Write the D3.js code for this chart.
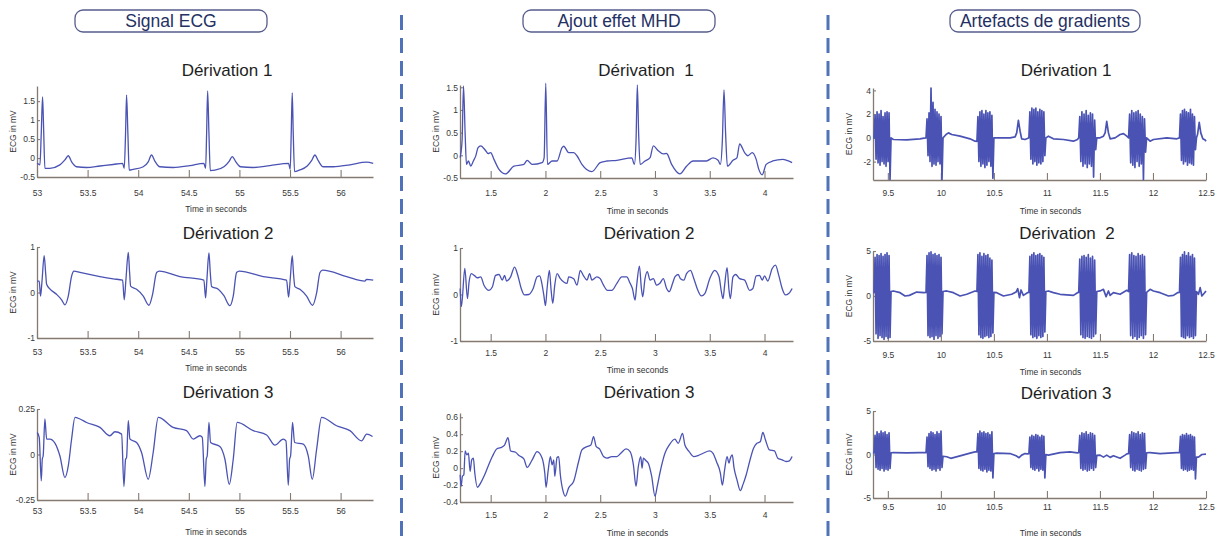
<!DOCTYPE html>
<html><head><meta charset="utf-8">
<script src="https://cdn.jsdelivr.net/npm/d3@7"></script>
<style>
body{margin:0;background:#fff}
svg{display:block}
text{font-family:"Liberation Sans",Arial,Helvetica,sans-serif}
</style>
</head><body>
<svg id="chart" width="1224" height="539"></svg>
<script>
// ---------------- DATA ----------------
const columnTitles = ["Signal ECG", "Ajout effet MHD", "Artefacts de gradients"];
const panelTitles = [
  ["Dérivation 1", "Dérivation 2", "Dérivation 3"],
  ["Dérivation  1", "Dérivation 2", "Dérivation 3"],
  ["Dérivation 1", "Dérivation  2", "Dérivation 3"]
];
const xLabel = "Time in seconds";
const yLabel = "ECG in mV";

const xTicksECG = [53, 53.5, 54, 54.5, 55, 55.5, 56];
const xTicksMHD = [1.5, 2, 2.5, 3, 3.5, 4];
const xTicksGrad = [9.5, 10, 10.5, 11, 11.5, 12, 12.5];
const xDomainECG = [53, 56.32];
const xDomainMHD = [1.22, 4.26];
const xDomainGrad = [9.36, 12.5];

const yTicksECG1 = [-0.5, 0, 0.5, 1, 1.5];
const yTicksECG2 = [-1, 0, 1];
const yTicksECG3 = [-0.25, 0, 0.25];
const yTicksMHD1 = [-0.5, 0, 0.5, 1, 1.5];
const yTicksMHD2 = [-1, 0, 1];
const yTicksMHD3 = [-0.4, -0.2, 0, 0.2, 0.4, 0.6];
const yTicksGrad1 = [-2, 0, 2, 4];
const yTicksGrad2 = [-5, 0, 5];
const yTicksGrad3 = [-5, 0, 5];

const yDomainECG1 = [-0.5, 1.9];
const yDomainECG2 = [-1, 1];
const yDomainECG3 = [-0.25, 0.25];
const yDomainMHD1 = [-0.5, 1.55];
const yDomainMHD2 = [-1, 1];
const yDomainMHD3 = [-0.4, 0.65];
const yDomainGrad1 = [-3.55, 4.2];
const yDomainGrad2 = [-5, 5];
const yDomainGrad3 = [-5, 5];

// Signal ECG — [time s, mV]
const ecgD1 = [[53.002,-0.14],[53.029,-0.18],[53.042,0.65],[53.055,1.61],[53.065,0.82],[53.078,-0.27],[53.127,-0.27],[53.226,-0.18],[53.276,-0.05],[53.309,0.06],[53.342,-0.1],[53.391,-0.23],[53.49,-0.25],[53.622,-0.21],[53.753,-0.17],[53.846,-0.14],[53.862,-0.27],[53.875,0.65],[53.885,1.66],[53.898,0.65],[53.911,-0.32],[53.951,-0.3],[54.05,-0.23],[54.099,-0.1],[54.132,0.08],[54.165,-0.08],[54.214,-0.23],[54.346,-0.25],[54.511,-0.2],[54.649,-0.14],[54.666,-0.27],[54.676,0.65],[54.686,1.77],[54.699,0.65],[54.712,-0.33],[54.758,-0.32],[54.847,-0.23],[54.9,-0.08],[54.929,0.04],[54.965,-0.1],[55.011,-0.23],[55.137,-0.25],[55.301,-0.2],[55.486,-0.14],[55.502,-0.3],[55.512,0.65],[55.522,1.72],[55.532,0.65],[55.545,-0.36],[55.591,-0.32],[55.67,-0.21],[55.713,-0.07],[55.746,0.08],[55.779,-0.07],[55.828,-0.23],[55.927,-0.23],[56.092,-0.18],[56.256,-0.11],[56.322,-0.14]];
const ecgD2 = [[53.002,0.25],[53.022,0.25],[53.035,-0.08],[53.048,0.21],[53.071,0.81],[53.085,0.44],[53.095,0.18],[53.127,0.08],[53.193,-0.04],[53.243,-0.16],[53.276,-0.27],[53.309,-0.08],[53.342,0.36],[53.365,0.47],[53.424,0.44],[53.622,0.35],[53.753,0.3],[53.846,0.27],[53.862,-0.16],[53.879,0.29],[53.902,0.88],[53.915,0.44],[53.925,0.14],[53.984,0.07],[54.05,-0.08],[54.106,-0.28],[54.142,-0.04],[54.182,0.44],[54.208,0.47],[54.412,0.35],[54.649,0.27],[54.666,-0.12],[54.679,0.29],[54.699,0.87],[54.712,0.44],[54.725,0.13],[54.791,0.07],[54.847,-0.07],[54.906,-0.29],[54.939,-0.08],[54.972,0.44],[54.998,0.47],[55.235,0.35],[55.466,0.27],[55.486,-0.1],[55.502,0.29],[55.522,0.81],[55.535,0.4],[55.548,0.13],[55.598,0.07],[55.664,-0.08],[55.723,-0.28],[55.763,-0.01],[55.796,0.44],[55.822,0.49],[56.059,0.35],[56.24,0.25],[56.257,0.29],[56.322,0.27]];
const ecgD3 = [[53.002,0.121],[53.022,0.094],[53.042,-0.145],[53.052,-0.026],[53.061,-0.007],[53.078,0.195],[53.095,0.085],[53.127,0.085],[53.177,0.063],[53.226,-0.007],[53.276,-0.127],[53.309,-0.063],[53.342,0.085],[53.375,0.204],[53.424,0.195],[53.49,0.176],[53.622,0.149],[53.72,0.103],[53.77,0.125],[53.836,0.112],[53.859,-0.176],[53.875,-0.026],[53.885,-0.017],[53.902,0.186],[53.918,0.085],[53.984,0.066],[54.033,0.011],[54.099,-0.136],[54.148,0.011],[54.198,0.204],[54.346,0.149],[54.478,0.131],[54.544,0.085],[54.609,0.103],[54.633,0.094],[54.659,-0.176],[54.672,-0.026],[54.682,-0.007],[54.699,0.176],[54.715,0.066],[54.807,0.044],[54.857,-0.026],[54.9,-0.164],[54.939,-0.026],[54.978,0.176],[55.137,0.131],[55.269,0.107],[55.351,0.051],[55.433,0.085],[55.46,0.075],[55.483,-0.169],[55.496,-0.026],[55.506,-0.007],[55.525,0.176],[55.545,0.066],[55.631,0.057],[55.68,-0.007],[55.72,-0.136],[55.763,0.029],[55.812,0.204],[55.96,0.158],[56.092,0.131],[56.207,0.075],[56.257,0.112],[56.316,0.099]];

// Ajout effet MHD — [time s, mV]
const mhdD1 = [[1.221,-0.05],[1.239,0.32],[1.252,1.53],[1.267,0.47],[1.279,-0.2],[1.297,-0.125],[1.318,-0.237],[1.342,-0.125],[1.364,-0.013],[1.385,0.17],[1.409,0.21],[1.455,0.1],[1.476,0.04],[1.5,0.06],[1.53,-0.09],[1.576,-0.31],[1.636,-0.41],[1.712,-0.24],[1.803,-0.2],[1.833,-0.11],[1.879,-0.2],[1.97,-0.16],[1.988,-0.055],[2.003,1.59],[2.018,-0.2],[2.061,-0.125],[2.106,-0.125],[2.152,0.17],[2.167,0.2],[2.212,0.06],[2.258,0.06],[2.288,-0.01],[2.333,-0.2],[2.424,-0.36],[2.5,-0.16],[2.561,-0.125],[2.652,-0.11],[2.788,-0.055],[2.812,-0.2],[2.827,0.32],[2.839,1.55],[2.851,0.47],[2.864,-0.2],[2.909,-0.125],[2.955,-0.05],[2.985,0.21],[3.03,0.1],[3.076,0.03],[3.106,0.04],[3.152,-0.2],[3.227,-0.41],[3.288,-0.24],[3.348,-0.125],[3.47,-0.125],[3.53,-0.055],[3.576,-0.11],[3.597,-0.2],[3.615,0.32],[3.63,1.44],[3.645,0.47],[3.661,-0.24],[3.712,-0.11],[3.748,-0.055],[3.773,0.25],[3.818,0.06],[3.848,-0.01],[3.888,0.06],[3.924,-0.09],[3.948,-0.31],[3.979,-0.43],[4.015,-0.2],[4.076,-0.125],[4.167,-0.09],[4.203,-0.11],[4.252,-0.16]];
const mhdD2 = [[1.221,0.13],[1.233,-0.26],[1.264,0.56],[1.288,-0.09],[1.303,0.27],[1.324,0.45],[1.355,0.4],[1.379,0.36],[1.409,0.38],[1.439,0.2],[1.485,0.09],[1.515,0.16],[1.545,0.41],[1.576,0.43],[1.606,0.31],[1.627,0.41],[1.645,0.29],[1.682,0.38],[1.718,0.59],[1.748,0.41],[1.779,0.13],[1.809,-0.01],[1.848,0],[1.888,0.13],[1.924,0.38],[1.948,0.4],[1.97,0.2],[1.985,-0.01],[2.0,-0.24],[2.015,0.13],[2.036,0.52],[2.052,0.09],[2.067,-0.19],[2.085,0.2],[2.106,0.45],[2.136,0.34],[2.167,0.27],[2.197,0.24],[2.212,0.38],[2.258,0.34],[2.288,0.2],[2.318,0.52],[2.348,0.4],[2.379,0.31],[2.403,0.45],[2.424,0.31],[2.47,0.38],[2.5,0.34],[2.53,0.2],[2.567,0.09],[2.606,0.09],[2.652,0.24],[2.697,0.38],[2.742,0.38],[2.773,0.24],[2.794,0.13],[2.818,-0.12],[2.833,0.2],[2.858,0.61],[2.876,0.13],[2.888,-0.05],[2.909,0.34],[2.93,0.49],[2.955,0.31],[2.985,0.34],[3.015,0.2],[3.045,0.24],[3.076,0.34],[3.106,0.13],[3.13,0.06],[3.161,0.24],[3.182,0.38],[3.212,0.43],[3.233,0.34],[3.264,0.31],[3.288,0.45],[3.324,0.52],[3.355,0.34],[3.385,0.13],[3.424,-0.03],[3.455,0.02],[3.5,0.34],[3.545,0.52],[3.585,0.38],[3.606,0.06],[3.621,-0.09],[3.636,0.2],[3.658,0.58],[3.676,0.09],[3.688,-0.09],[3.712,0.38],[3.736,0.43],[3.773,0.34],[3.818,0.31],[3.864,0.09],[3.894,0.13],[3.924,0.4],[3.955,0.41],[3.979,0.31],[4.0,0.4],[4.03,0.29],[4.07,0.56],[4.1,0.63],[4.13,0.41],[4.161,0.13],[4.191,-0.01],[4.221,0.02],[4.252,0.13]];
const mhdD3 = [[1.221,-0.078],[1.23,-0.214],[1.242,-0.097],[1.255,-0.078],[1.267,0.202],[1.282,0.156],[1.297,0.175],[1.312,-0.039],[1.327,0.097],[1.342,0.117],[1.355,-0.058],[1.379,-0.226],[1.409,-0.175],[1.439,-0.097],[1.476,0.019],[1.515,0.136],[1.555,0.226],[1.591,0.241],[1.627,0.272],[1.658,0.358],[1.682,0.202],[1.727,0.187],[1.758,0.148],[1.803,0.109],[1.833,0.008],[1.879,0.097],[1.924,0.195],[1.97,0.117],[1.994,-0.058],[2.006,-0.226],[2.024,-0.039],[2.045,0.136],[2.061,0.039],[2.076,0.097],[2.085,-0.097],[2.106,0.125],[2.121,0.136],[2.136,-0.078],[2.161,-0.272],[2.182,-0.331],[2.212,-0.233],[2.258,-0.156],[2.303,0.078],[2.333,0.214],[2.379,0.253],[2.415,0.272],[2.439,0.37],[2.464,0.253],[2.494,0.226],[2.53,0.136],[2.561,0.117],[2.606,0.136],[2.652,0.136],[2.688,0.175],[2.736,0.226],[2.773,0.195],[2.803,0.039],[2.827,-0.214],[2.848,0.019],[2.87,0.136],[2.882,0],[2.894,0.117],[2.918,0.086],[2.939,0.058],[2.97,-0.097],[3.0,-0.331],[3.021,-0.214],[3.045,-0.058],[3.091,0.175],[3.13,0.272],[3.182,0.342],[3.212,0.292],[3.252,0.409],[3.273,0.272],[3.312,0.195],[3.355,0.136],[3.394,0.148],[3.439,0.175],[3.5,0.202],[3.53,0.175],[3.561,0.078],[3.597,-0.058],[3.615,-0.202],[3.636,-0.019],[3.658,0.136],[3.676,0.058],[3.688,0.117],[3.706,0.156],[3.721,0.008],[3.748,-0.136],[3.779,-0.265],[3.803,-0.195],[3.833,-0.078],[3.864,0.078],[3.9,0.233],[3.93,0.292],[3.961,0.311],[3.985,0.42],[4.009,0.331],[4.045,0.214],[4.091,0.202],[4.121,0.117],[4.161,0.097],[4.197,0.078],[4.227,0.086],[4.252,0.136]];

// Artefacts de gradients — baseline [time s, mV] between the gradient bursts
const gradBaseD1 = [[9.363,0],[9.552,-0.14],[9.678,-0.17],[9.803,-0.08],[9.841,-0.03],[10.049,0.28],[10.071,0.42],[10.102,0.28],[10.181,0.14],[10.275,-0.08],[10.322,-0.28],[10.527,0],[10.652,0],[10.7,0.08],[10.715,0.42],[10.731,1.47],[10.747,0.56],[10.762,-0.08],[10.794,-0.14],[10.816,-0.06],[11.014,0.14],[11.061,-0.08],[11.156,-0.14],[11.25,-0.28],[11.288,-0.14],[11.501,0],[11.533,0.14],[11.549,0.42],[11.564,1.39],[11.58,0.42],[11.596,-0.08],[11.643,0],[11.69,0.28],[11.722,0.36],[11.753,0.14],[11.973,-0.28],[12.004,-0.14],[12.13,0],[12.225,-0.08],[12.42,0.28],[12.436,1.31],[12.451,0.42],[12.47,-0.08],[12.492,-0.19],[12.5,-0.28]];
const gradBaseD2 = [[9.363,0.37],[9.552,0.56],[9.615,0.37],[9.662,0],[9.703,0.07],[9.772,0.44],[9.841,0.37],[10.055,0.56],[10.118,0.37],[10.181,0],[10.244,0.19],[10.322,0.56],[10.527,0.37],[10.59,0],[10.668,0.19],[10.709,0.44],[10.725,0.81],[10.741,-0.19],[10.756,0.67],[10.778,0.07],[10.816,0.37],[11.014,0.56],[11.061,0.37],[11.124,0.19],[11.25,0.07],[11.288,0.37],[11.501,0.56],[11.533,0.74],[11.558,-0.07],[11.58,0.56],[11.596,0.07],[11.627,0.37],[11.69,0.19],[11.753,0.63],[11.973,0.74],[12.004,0.56],[12.067,0.37],[12.146,0],[12.193,0.07],[12.231,0.37],[12.429,0.19],[12.445,0.93],[12.461,0],[12.483,0.3],[12.5,0.56]];
const gradBaseD3 = [[9.363,0.11],[9.552,0.22],[9.678,0.19],[9.803,0.22],[9.841,0.22],[10.055,-0.26],[10.093,-0.44],[10.181,-0.15],[10.275,0.15],[10.322,0.3],[10.527,0.15],[10.652,0.11],[10.709,-0.15],[10.737,-0.37],[10.762,-0.07],[10.794,0.11],[10.816,0.07],[11.014,-0.07],[11.124,0.22],[11.218,0.3],[11.288,0.19],[11.501,-0.07],[11.533,-0.3],[11.564,-0.07],[11.596,-0.33],[11.627,-0.15],[11.69,-0.44],[11.737,-0.07],[11.753,0.07],[11.973,0.22],[12.067,0.11],[12.225,0.22],[12.429,-0.3],[12.461,0],[12.5,0.04]];

// gradient bursts: start/end time (s), then sampled values (mV) at an even rate within each burst
const burstTimes = [[9.37,9.53],[9.86,10.02],[10.34,10.50],[10.83,10.99],[11.30,11.47],[11.77,11.94],[12.25,12.41]];
const gradBurstD1 = [
  [0,1.9,-1.8,2.2,-2.1,2.0,-2.3,2.3,-2.0,1.8,-2.2,2.1,-2.4,2.2,-2.0,2.1,-3.5,0],
  [0,1.6,-1.5,2.1,-2.0,4.2,-2.4,3.0,-2.2,2.4,-2.3,2.2,-2.0,2.0,-2.2,1.8,-3.5,0],
  [-0.3,1.8,-2.0,2.2,-2.4,2.3,-2.2,2.0,-2.5,2.3,-2.3,2.1,-2.0,2.2,-2.4,1.9,-3.4,0],
  [0,2.2,-1.8,2.5,-2.2,2.4,-2.0,2.5,-2.3,2.2,-2.1,2.4,-2.2,2.3,-2.0,2.2,-1.5,0],
  [0,1.8,-2.0,2.2,-2.4,2.0,-2.2,2.3,-2.5,1.9,-2.2,2.1,-2.4,2.0,-3.3,1.5,-1.0,0],
  [0,2.0,-2.1,2.3,-2.3,2.1,-2.5,2.2,-2.0,2.3,-2.4,2.0,-2.2,1.8,-3.5,1.6,-1.2,0],
  [0,2.0,-1.9,2.3,-2.2,2.4,-2.0,2.2,-2.3,2.1,-2.1,2.4,-2.2,2.0,-2.3,1.8,-1.0,0]
];
const gradBurstD2 = [
  [0.4,4.3,-4.2,4.6,-4.7,4.5,-4.4,4.7,-4.6,4.4,-4.8,4.6,-4.5,4.8,-4.7,4.5,-4.6,0.5],
  [0.4,4.5,-4.4,4.8,-4.6,4.9,-4.5,4.6,-4.8,4.7,-4.4,4.5,-4.7,4.6,-4.5,4.3,-4.2,0.5],
  [0.5,4.6,-4.3,4.8,-4.6,4.4,-4.7,4.7,-4.5,4.5,-4.4,4.6,-4.6,4.2,-4.5,4.0,-4.1,0.4],
  [0.4,4.4,-4.3,4.6,-4.6,4.8,-4.5,4.5,-4.7,4.6,-4.4,4.7,-4.6,4.5,-4.5,4.3,-4.0,0.5],
  [0.4,4.1,-4.3,4.4,-4.6,4.5,-4.7,4.3,-4.5,4.6,-4.6,4.2,-4.7,4.4,-4.5,4.0,-4.2,0.5],
  [0.5,4.6,-4.4,4.8,-4.7,4.5,-4.5,4.4,-4.8,4.7,-4.6,4.5,-4.4,4.6,-4.7,4.4,-4.3,0.4],
  [0.4,4.3,-4.5,4.6,-4.6,4.9,-4.7,4.5,-4.4,4.8,-4.6,4.4,-4.5,4.6,-4.7,4.2,-4.4,0.5]
];
const gradBurstD3 = [
  [0.2,2.2,-1.5,2.6,-1.7,2.4,-1.8,2.7,-1.6,2.5,-1.9,2.6,-1.7,2.3,-1.8,2.5,-1.6,0.2],
  [0.2,2.0,-1.4,2.4,-1.6,2.6,-1.8,2.5,-1.7,2.3,-1.9,2.6,-1.6,2.4,-1.8,2.7,-1.5,-0.2],
  [0.3,2.4,-1.6,2.7,-1.8,2.5,-1.9,2.6,-1.7,2.4,-2.0,2.5,-1.8,2.3,-1.9,2.6,-2.7,0.1],
  [0.1,2.0,-1.5,2.2,-1.7,2.1,-1.8,2.3,-1.6,2.2,-1.9,2.0,-1.7,2.2,-1.8,2.1,-2.7,0],
  [0.2,2.2,-1.6,2.5,-1.8,2.4,-1.7,2.6,-1.9,2.3,-1.8,2.5,-1.6,2.4,-1.8,2.2,-1.5,-0.1],
  [0.1,2.3,-1.5,2.6,-1.8,2.5,-1.9,2.4,-1.7,2.6,-1.8,2.3,-1.9,2.5,-1.7,2.4,-1.6,0.2],
  [0.2,2.1,-1.6,2.3,-1.8,2.2,-1.7,2.4,-1.9,2.2,-1.8,2.3,-1.7,2.1,-1.8,2.0,-2.8,-0.3]
];

// ---------------- BUILD ----------------
function withBursts(base, bursts) {
  const pts = base.slice();
  bursts.forEach((vals, i) => {
    const [t0, t1] = burstTimes[i];
    const n = vals.length;
    vals.forEach((v, j) => pts.push([t0 + (t1 - t0) * j / (n - 1), v]));
  });
  return pts.sort((a, b) => a[0] - b[0]);
}

const columns = [
  { xDomain: xDomainECG, xTicks: xTicksECG, lr: [37, 373], boxX: [75, 267],
    panels: [
      { data: ecgD1, yDomain: yDomainECG1, yTicks: yTicksECG1, bt: [177, 86], tickOff: 16, xlY: 209, titleY: 70, titleX: 227 },
      { data: ecgD2, yDomain: yDomainECG2, yTicks: yTicksECG2, bt: [338, 247], tickOff: 14, xlY: 368, titleY: 233, titleX: 228 },
      { data: ecgD3, yDomain: yDomainECG3, yTicks: yTicksECG3, bt: [500, 409], tickOff: 11, xlY: 532, titleY: 392, titleX: 228 }
    ], smooth: true },
  { xDomain: xDomainMHD, xTicks: xTicksMHD, lr: [460, 793], boxX: [523, 715],
    panels: [
      { data: mhdD1, yDomain: yDomainMHD1, yTicks: yTicksMHD1, bt: [178, 85], tickOff: 15, xlY: 211, titleY: 70, titleX: 646 },
      { data: mhdD2, yDomain: yDomainMHD2, yTicks: yTicksMHD2, bt: [341, 248], tickOff: 12, xlY: 370, titleY: 233, titleX: 649 },
      { data: mhdD3, yDomain: yDomainMHD3, yTicks: yTicksMHD3, bt: [502, 413], tickOff: 13, xlY: 533, titleY: 392, titleX: 649 }
    ], smooth: true },
  { xDomain: xDomainGrad, xTicks: xTicksGrad, lr: [873, 1206], boxX: [950, 1140],
    panels: [
      { data: withBursts(gradBaseD1, gradBurstD1), yDomain: yDomainGrad1, yTicks: yTicksGrad1, bt: [180, 88], tickOff: 13, xlY: 211, titleY: 70, titleX: 1066 },
      { data: withBursts(gradBaseD2, gradBurstD2), yDomain: yDomainGrad2, yTicks: yTicksGrad2, bt: [341, 251], tickOff: 14, xlY: 372, titleY: 233, titleX: 1067 },
      { data: withBursts(gradBaseD3, gradBurstD3), yDomain: yDomainGrad3, yTicks: yTicksGrad3, bt: [498, 411], tickOff: 9, xlY: 533, titleY: 393, titleX: 1066 }
    ], smooth: false }
];

const svg = d3.select("#chart");
const axisColor = "#857a72";
const lineColor = "#4a53b4";
const fmt = d => String(d);

// separators
[401.5, 828].forEach(x => {
  svg.append("line").attr("x1", x).attr("x2", x).attr("y1", 15).attr("y2", 539)
    .attr("stroke", "#4f72b8").attr("stroke-width", 3).attr("stroke-dasharray", "15,8");
});

columns.forEach((col, ci) => {
  // column title box
  const [bx0, bx1] = col.boxX;
  svg.append("rect").attr("x", bx0).attr("y", 10).attr("width", bx1 - bx0).attr("height", 22)
    .attr("rx", 8).attr("fill", "#fff").attr("stroke", "#575c8c").attr("stroke-width", 1.3);
  svg.append("text").attr("x", (bx0 + bx1) / 2).attr("y", 27).attr("text-anchor", "middle")
    .attr("font-size", 17.5).attr("fill", "#253063").text(columnTitles[ci]);

  const [left, right] = col.lr;
  const x = d3.scaleLinear().domain(col.xDomain).range([left, right]);

  col.panels.forEach((p, ri) => {
    const [bottom, top] = p.bt;
    const y = d3.scaleLinear().domain(p.yDomain).range([bottom, top]);
    const g = svg.append("g");

    // panel title
    g.append("text").attr("x", p.titleX).attr("y", p.titleY + 6).attr("text-anchor", "middle")
      .attr("font-size", 17).attr("fill", "#1e1e1e").style("white-space", "pre")
      .text(panelTitles[ci][ri]);

    // x axis
    const xa = g.append("g").attr("transform", `translate(0,${bottom})`)
      .call(d3.axisBottom(x).tickValues(col.xTicks).tickFormat(fmt)
        .tickSizeInner(-7).tickSizeOuter(0).tickPadding(p.tickOff - 3));
    // y axis
    const ya = g.append("g").attr("transform", `translate(${left},0)`)
      .call(d3.axisLeft(y).tickValues(p.yTicks).tickFormat(fmt)
        .tickSizeInner(-3).tickSizeOuter(0).tickPadding(2));
    [xa, ya].forEach(a => {
      a.select(".domain").attr("stroke", axisColor).attr("stroke-width", 1.3);
      a.selectAll(".tick line").attr("stroke", axisColor).attr("stroke-width", 1.1);
      a.selectAll(".tick text").attr("fill", "#383838").attr("font-size", 8.5)
        .attr("font-family", "'Liberation Sans', Arial, sans-serif");
    });

    // axis labels
    g.append("text").attr("x", (left + right) / 2 + 11).attr("y", p.xlY + 3)
      .attr("text-anchor", "middle").attr("font-size", 8.5).attr("fill", "#333").text(xLabel);
    g.append("text").attr("transform", `translate(${left - 21},${(top + bottom) / 2}) rotate(-90)`)
      .attr("text-anchor", "middle").attr("font-size", 8.5).attr("fill", "#333").text(yLabel);

    // signal
    const line = d3.line().x(d => x(d[0])).y(d => y(d[1]))
      .curve(col.smooth ? d3.curveMonotoneX : d3.curveLinear);
    g.append("path").datum(p.data).attr("d", line).attr("fill", "none")
      .attr("stroke", lineColor).attr("stroke-width", col.smooth ? 1.3 : 1.7)
      .attr("stroke-linejoin", "round");
  });
});
</script>
</body></html>
